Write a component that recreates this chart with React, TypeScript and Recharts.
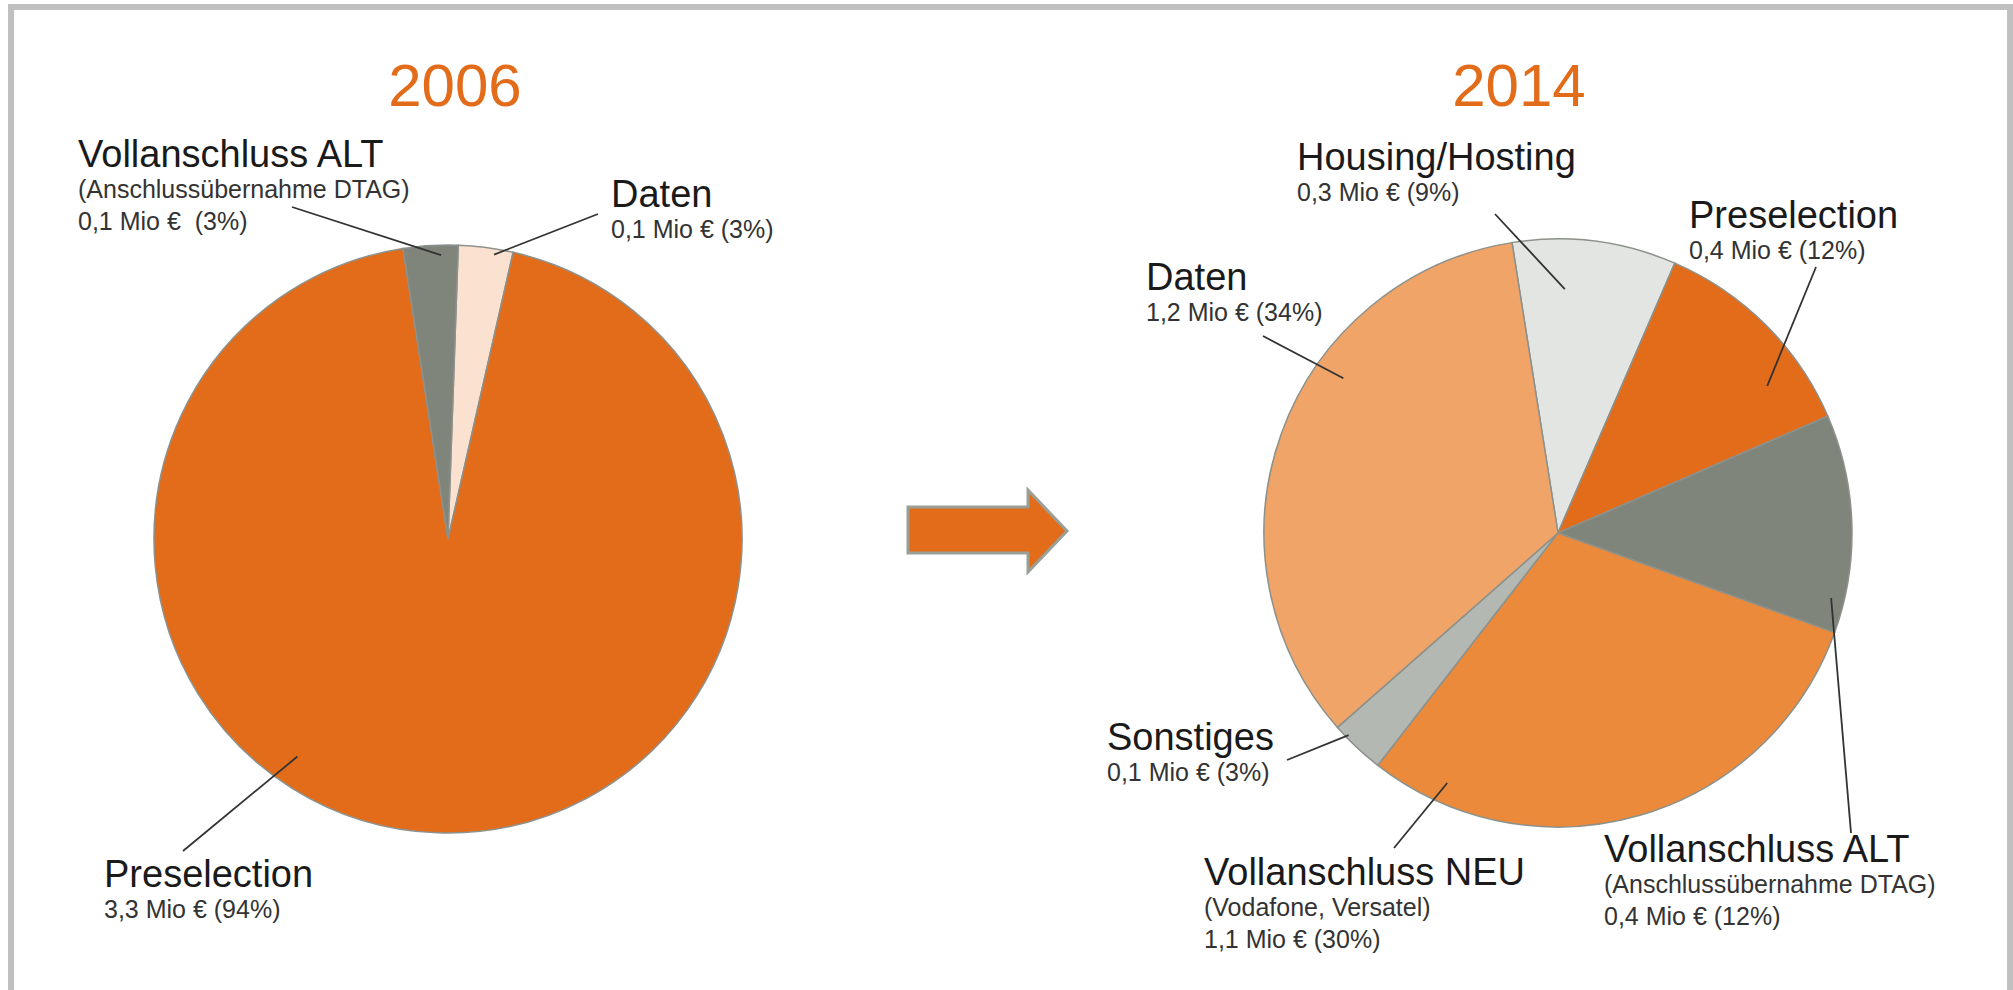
import { PieChart, Pie, Cell } from "recharts";

// 2006 (clockwise from the top)
const names2006 = ["Daten", "Preselection", "Vollanschluss ALT"];
const share2006 = [3, 94, 3];
const mio2006 = ["0,1", "3,3", "0,1"];
const notes2006 = ["", "", "(Anschlussübernahme DTAG)"];
const gaps2006 = [" ", " ", "  "];

// 2014 (clockwise from the top)
const names2014 = ["Housing/Hosting", "Preselection", "Vollanschluss ALT", "Vollanschluss NEU", "Sonstiges", "Daten"];
const share2014 = [9, 12, 12, 30, 3, 34];
const mio2014 = ["0,3", "0,4", "0,4", "1,1", "0,1", "1,2"];
const notes2014 = ["", "", "(Anschlussübernahme DTAG)", "(Vodafone, Versatel)", "", ""];

const colors2006 = ["#fbe2d0", "#e36c1a", "#80857c"];
const colors2014 = ["#e3e5e2", "#e36c1a", "#80857c", "#ec8a3c", "#b4b8b2", "#f0a468"];

// label layout relative to the pie centre
// a/r: where the leader touches the slice (deg clockwise from 12 o'clock, share of radius)
// lx/ly: outer end of the leader, tx/ty: first text line
const layout2006 = [
  { a: 9.2, r: 0.98, lx: 150, ly: -325, tx: 163, ty: -332 },
  { a: 214.7, r: 0.9, lx: -265, ly: 312, tx: -344, ty: 348 },
  { a: -1.4, r: 0.966, lx: -156, ly: -332, tx: -370, ty: -372 },
];
const layout2014 = [
  { a: 1.6, r: 0.83, lx: -63, ly: -319, tx: -261, ty: -363 },
  { a: 54.9, r: 0.87, lx: 258, ly: -266, tx: 131, ty: -305 },
  { a: 103.4, r: 0.955, lx: 293, ly: 300, tx: 46, ty: 329 },
  { a: 203.9, r: 0.93, lx: -164, ly: 315, tx: -354, ty: 352 },
  { a: 226, r: 0.99, lx: -271, ly: 227, tx: -451, ty: 217 },
  { a: 305.8, r: 0.9, lx: -295, ly: -197, tx: -412, ty: -243 },
];

const data2006 = names2006.map((name, i) => ({ name, value: share2006[i] }));
const data2014 = names2014.map((name, i) => ({ name, value: share2014[i] }));

const FONT = '"Liberation Sans", Arial, Helvetica, sans-serif';

const makeLabel =
  (layout: any[], names: string[], notes: string[], mio: string[], share: number[], gaps?: string[]) =>
  (props: any) => {
    const { cx, cy, outerRadius, index } = props;
    const L = layout[index];
    const rad = (L.a * Math.PI) / 180;
    const ax = cx + outerRadius * L.r * Math.sin(rad);
    const ay = cy - outerRadius * L.r * Math.cos(rad);
    const sub: string[] = [];
    if (notes[index]) sub.push(notes[index]);
    sub.push(`${mio[index]} Mio €${gaps ? gaps[index] : " "}(${share[index]}%)`);
    return (
      <g>
        <line x1={cx + L.lx} y1={cy + L.ly} x2={ax} y2={ay} stroke="#333" strokeWidth={1.8} />
        <text x={cx + L.tx} y={cy + L.ty} fontSize={38} fill="#1a1a1a" fontFamily={FONT}>
          {names[index]}
        </text>
        {sub.map((s, k) => (
          <text
            key={k}
            x={cx + L.tx}
            y={cy + L.ty + 31 + k * 32}
            fontSize={25}
            fill="#333"
            fontFamily={FONT}
            style={{ whiteSpace: "pre" }}
          >
            {s}
          </text>
        ))}
      </g>
    );
  };

export default function App() {
  return (
    <div style={{ position: "absolute", left: 0, top: 0, width: 2013, height: 990, background: "#fff" }}>
      <svg width={2013} height={990} style={{ position: "absolute", left: 0, top: 0 }}>
        <path d="M11 995 V7 H2010 V995" fill="none" stroke="#c0c0c0" strokeWidth={6} />
        <text x={455} y={106} textAnchor="middle" fontSize={60} fill="#e36c1a" fontFamily={FONT}>
          2006
        </text>
        <text x={1519} y={106} textAnchor="middle" fontSize={60} fill="#e36c1a" fontFamily={FONT}>
          2014
        </text>
        <polygon
          points="908,507 1028,507 1028,490 1067,531 1028,572 1028,553 908,553"
          fill="#e36c1a"
          stroke="#9aa096"
          strokeWidth={3}
        />
      </svg>
      <div style={{ position: "absolute", left: 0, top: 0 }}>
        <PieChart width={2013} height={990}>
          <Pie
            data={data2006}
            dataKey="value"
            nameKey="name"
            cx={443}
            cy={534}
            outerRadius={294}
            startAngle={88}
            endAngle={-272}
            stroke="#8d918b"
            strokeWidth={1.5}
            labelLine={false}
            label={makeLabel(layout2006, names2006, notes2006, mio2006, share2006, gaps2006)}
            isAnimationActive={false}
          >
            {data2006.map((d, i) => (
              <Cell key={d.name} fill={colors2006[i]} />
            ))}
          </Pie>
          <Pie
            data={data2014}
            dataKey="value"
            nameKey="name"
            cx={1553}
            cy={528}
            outerRadius={294}
            startAngle={99}
            endAngle={-261}
            stroke="#8d918b"
            strokeWidth={1.5}
            labelLine={false}
            label={makeLabel(layout2014, names2014, notes2014, mio2014, share2014)}
            isAnimationActive={false}
          >
            {data2014.map((d, i) => (
              <Cell key={d.name} fill={colors2014[i]} />
            ))}
          </Pie>
        </PieChart>
      </div>
    </div>
  );
}
